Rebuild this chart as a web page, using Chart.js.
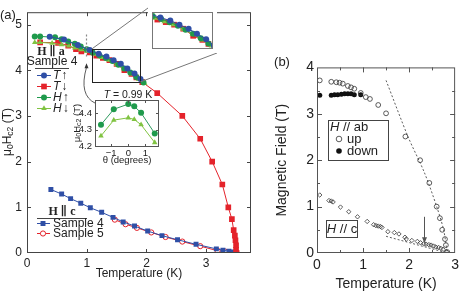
<!DOCTYPE html>
<html>
<head>
<meta charset="utf-8">
<script src="https://cdn.jsdelivr.net/npm/chart.js@4.4.1/dist/chart.umd.min.js"></script>
<style>
  html, body { margin: 0; padding: 0; background: #fff; }
  #wrap { position: relative; width: 463px; height: 294px; overflow: hidden; }
  canvas { position: absolute; }
</style>
</head>
<body>
<div id="wrap">
  <canvas id="chartA" width="256" height="294" style="left:0;top:0"></canvas>
  <canvas id="chartB" width="201" height="238" style="left:262px;top:56px"></canvas>
  <canvas id="zoomA" width="69" height="45" style="left:148px;top:8px"></canvas>
  <canvas id="thetaA" width="95" height="82" style="left:70px;top:86px"></canvas>
</div>
<script>
// ---- panel (a): H || a, sample 4 ----
const tUpT = [0.38, 0.62, 0.85, 1.05, 1.2, 1.33, 1.45, 1.57, 1.68, 1.8, 1.9];
const tUpH = [4.73, 4.67, 4.55, 4.44, 4.36, 4.3, 4.22, 4.14, 4.04, 3.93, 3.81];
const tDnT = [0.22, 0.52, 0.69, 0.82, 0.91, 1.05, 1.16, 1.27, 1.38, 1.5, 1.63, 1.75, 1.83, 1.93, 2.18, 2.6, 2.9, 3.1, 3.27, 3.37, 3.43, 3.46, 3.48, 3.49, 3.5, 3.5, 3.51];
const tDnH = [4.61, 4.6, 4.54, 4.46, 4.41, 4.39, 4.32, 4.27, 4.22, 4.14, 4.0, 3.92, 3.84, 3.74, 3.5, 3.0, 2.5, 2.0, 1.5, 1.0, 0.74, 0.5, 0.38, 0.28, 0.17, 0.07, 0.0];
const hUpT = [0.13, 0.22, 0.47, 0.58, 0.69, 0.8, 0.9, 1.0, 1.1, 1.21, 1.32, 1.43, 1.53, 1.63, 1.73, 1.83, 1.95];
const hUpH = [4.74, 4.74, 4.72, 4.68, 4.63, 4.58, 4.52, 4.46, 4.39, 4.33, 4.27, 4.2, 4.12, 4.04, 3.95, 3.85, 3.73];
const hDnT = [0.13, 0.22, 0.42, 0.58, 0.7, 0.8, 0.9, 1.0, 1.12, 1.25, 1.37, 1.5, 1.62, 1.75, 1.87, 1.97];
const hDnH = [4.61, 4.61, 4.59, 4.56, 4.53, 4.49, 4.45, 4.41, 4.35, 4.28, 4.22, 4.13, 4.03, 3.92, 3.8, 3.71];

// ---- panel (a): H || c ----
const cS4T = [0.4, 0.58, 0.73, 0.9, 1.06, 1.25, 1.44, 1.61, 1.8, 2.02, 2.26, 2.52, 2.83, 3.17, 3.28, 3.38, 3.45, 3.5];
const cS4H = [1.39, 1.29, 1.19, 1.09, 0.99, 0.89, 0.78, 0.68, 0.59, 0.48, 0.38, 0.29, 0.19, 0.09, 0.06, 0.04, 0.02, 0.0];
const cS5T = [1.47, 1.65, 1.84, 2.08, 2.32, 2.6, 2.9, 3.19, 3.32, 3.45];
const cS5H = [0.73, 0.63, 0.55, 0.45, 0.35, 0.25, 0.15, 0.05, 0.03, 0.0];

// zoom window shown in the top-right inset, and the T = 0.99 K marker
const zoomT = [1.09, 1.89];
const zoomH = [3.74, 4.47];
const markT = 0.98;

// ---- angle inset (T = 0.99 K) ----
const thetaDeg = [-1.6, -0.85, 0, 0.35, 0.75, 1.55];
const thetaHup = [4.33, 4.424, 4.455, 4.442, 4.402, 4.277];
const thetaHdn = [4.262, 4.358, 4.372, 4.362, 4.33, 4.222];

// ---- panel (b) ----
const abUpT = [0.06, 0.31, 0.42, 0.49, 0.56, 0.67, 0.74, 0.81, 0.95, 1.06, 1.15, 1.33, 1.5, 1.92, 2.24, 2.44, 2.6, 2.67, 2.72, 2.78, 2.8, 2.83];
const abUpH = [3.72, 3.69, 3.68, 3.67, 3.65, 3.6, 3.57, 3.54, 3.45, 3.36, 3.32, 3.19, 3.01, 2.51, 2.0, 1.51, 1.0, 0.75, 0.5, 0.3, 0.17, 0.02];
const abDnT = [0.06, 0.31, 0.38, 0.45, 0.53, 0.6, 0.67, 0.74, 0.81, 0.95];
const abDnH = [3.4, 3.4, 3.41, 3.41, 3.42, 3.43, 3.43, 3.43, 3.41, 3.41];
const cT = [0.06, 0.26, 0.31, 0.35, 0.51, 0.69, 0.88, 1.09, 1.23, 1.28, 1.33, 1.38, 1.41, 1.54, 1.68, 1.78, 1.91, 1.94, 2.06, 2.18, 2.25, 2.32, 2.37, 2.43, 2.48, 2.53, 2.58, 2.64, 2.69, 2.74, 2.81];
const cH = [1.25, 1.13, 1.12, 1.1, 0.99, 0.89, 0.78, 0.68, 0.61, 0.59, 0.58, 0.57, 0.55, 0.46, 0.44, 0.41, 0.34, 0.3, 0.27, 0.25, 0.22, 0.2, 0.19, 0.18, 0.17, 0.15, 0.13, 0.12, 0.1, 0.08, 0.03];
const fitAbT = [1.5, 1.98, 2.33, 2.6, 2.75, 2.83];
const fitAbH = [3.72, 2.5, 1.74, 1.0, 0.5, 0.0];
const fitCT = [1.5, 2.83];
const fitCH = [0.36, 0.0];
const arrowT = 2.33;
const arrowH = [0.78, 0.21];

// tick labels
const ticksAx = [0, 1, 2, 3];
const ticksAy = [0, 1, 2, 3, 4, 5];
const ticksThX = [-1, 0, 1];
const ticksThY = [4.2, 4.3, 4.4];
const ticksBx = [0, 1, 2, 3];
const ticksBy = [0, 1, 2, 3, 4];
const minorB = [0.5, 1.5, 2.5, 3.5];

const FONT = "'Liberation Sans Narrow', 'Liberation Sans', Arial, sans-serif";
const SERIF = "'Liberation Serif', 'DejaVu Serif', serif";
const BLUE = '#2f4fa6', RED = '#e4232b', GREEN = '#1f9a4c', LGREEN = '#80c341';
const INK = '#222';

Chart.defaults.font.family = FONT;
Chart.defaults.color = INK;

const pts = (xs, ys) => xs.map((x, i) => ({ x: x, y: ys[i] }));
const setTicks = vals => axis => { axis.ticks = vals.map(v => ({ value: v })); };
const minus = v => (v < 0 ? '\u2212' + Math.abs(v) : String(v));

function drawMarker(ctx, style, x, y, r, fill, stroke, lw) {
  ctx.save();
  ctx.beginPath();
  if (style === 'rect') {
    const s = r * Math.SQRT1_2;
    ctx.rect(x - s, y - s, 2 * s, 2 * s);
  } else if (style === 'triangle') {
    ctx.moveTo(x, y - r);
    ctx.lineTo(x + r * 0.87, y + r * 0.5);
    ctx.lineTo(x - r * 0.87, y + r * 0.5);
    ctx.closePath();
  } else {
    ctx.arc(x, y, r, 0, Math.PI * 2);
  }
  if (fill) { ctx.fillStyle = fill; ctx.fill(); }
  if (stroke) { ctx.strokeStyle = stroke; ctx.lineWidth = lw || 1; ctx.stroke(); }
  ctx.restore();
}

// text with subscripts, rotated -90deg and centred at (cx, cy)
function richVertical(ctx, parts, cx, cy) {
  ctx.save();
  ctx.translate(cx, cy);
  ctx.rotate(-Math.PI / 2);
  let w = 0;
  parts.forEach(p => { ctx.font = p.f; w += ctx.measureText(p.t).width; });
  let x = -w / 2;
  ctx.fillStyle = INK;
  ctx.textBaseline = 'middle';
  ctx.textAlign = 'left';
  parts.forEach(p => {
    ctx.font = p.f;
    ctx.fillText(p.t, x, p.dy || 0);
    x += ctx.measureText(p.t).width;
  });
  ctx.restore();
}

// inward ticks and a closed frame round the plot area
function frameTicks(cfg) {
  return {
    id: 'frameTicks',
    afterDatasetsDraw(chart) {
      const { ctx, chartArea: a, scales } = chart;
      ctx.save();
      ctx.strokeStyle = cfg.color;
      ctx.lineWidth = 1;
      ctx.strokeRect(a.left + 0.5, a.top + 0.5, a.right - a.left - 1, a.bottom - a.top - 1);
      (cfg.ticks || []).forEach(t => {
        ctx.beginPath();
        t.values.forEach(v => {
          if (t.axis === 'x') {
            const px = Math.round(scales.x.getPixelForValue(v)) + 0.5;
            if (t.sides.includes('bottom')) { ctx.moveTo(px, a.bottom); ctx.lineTo(px, a.bottom - t.len); }
            if (t.sides.includes('top')) { ctx.moveTo(px, a.top); ctx.lineTo(px, a.top + t.len); }
          } else {
            const py = Math.round(scales.y.getPixelForValue(v)) + 0.5;
            if (t.sides.includes('left')) { ctx.moveTo(a.left, py); ctx.lineTo(a.left + t.len, py); }
            if (t.sides.includes('right')) { ctx.moveTo(a.right, py); ctx.lineTo(a.right - t.len, py); }
          }
        });
        ctx.stroke();
      });
      ctx.restore();
    }
  };
}

function seriesA() {
  return [
    { label: 'T up', data: pts(tUpT, tUpH), showLine: true, borderColor: BLUE, backgroundColor: BLUE,
      borderWidth: 1, pointStyle: 'circle', pointRadius: 3, pointBorderWidth: 0 },
    { label: 'H up', data: pts(hUpT, hUpH), showLine: true, borderColor: GREEN, backgroundColor: GREEN,
      borderWidth: 1, pointStyle: 'circle', pointRadius: 3, pointBorderWidth: 0 },
    { label: 'H down', data: pts(hDnT, hDnH), showLine: true, borderColor: LGREEN, backgroundColor: LGREEN,
      borderWidth: 1, pointStyle: 'triangle', pointRadius: 3.2, pointBorderWidth: 0 },
    { label: 'T down', data: pts(tDnT, tDnH), showLine: true, borderColor: RED, backgroundColor: RED,
      borderWidth: 1, pointStyle: 'rect', pointRadius: 4, pointBorderWidth: 0 }
  ];
}

const baseOpts = {
  responsive: false,
  animation: false,
  events: [],
  plugins: { legend: { display: false }, tooltip: { enabled: false } }
};

// ---------------- panel (a) ----------------
const decoA = {
  id: 'decoA',
  afterDraw(chart) {
    const { ctx } = chart;
    const xs = chart.scales.x, ys = chart.scales.y;
    ctx.save();
    ctx.fillStyle = INK;
    ctx.font = '13px ' + FONT;
    ctx.textBaseline = 'middle';
    ctx.textAlign = 'left';
    ctx.fillText('(a)', 0, 15);

    richVertical(ctx, [
      { t: '\u03bc', f: '12px ' + FONT },
      { t: '0', f: '8.5px ' + FONT, dy: 3 },
      { t: 'H', f: '12px ' + FONT },
      { t: 'c2', f: '8.5px ' + FONT, dy: 3 },
      { t: ' (T)', f: '12px ' + FONT }
    ], 8, 132);

    // T = 0.99 K marker
    const mx = Math.round(xs.getPixelForValue(markT)) + 0.5;
    ctx.strokeStyle = '#888';
    ctx.lineWidth = 1.2;
    ctx.setLineDash([2, 2]);
    ctx.beginPath();
    ctx.moveTo(mx, ys.getPixelForValue(4.78));
    ctx.lineTo(mx, ys.getPixelForValue(4.26));
    ctx.stroke();
    ctx.setLineDash([]);
    const tipY = ys.getPixelForValue(4.26) + 5;
    ctx.fillStyle = '#333';
    ctx.beginPath();
    ctx.moveTo(mx, tipY); ctx.lineTo(mx - 2, tipY + 5); ctx.lineTo(mx + 2, tipY + 5); ctx.closePath();
    ctx.fill();
    ctx.strokeStyle = '#333';
    ctx.lineWidth = 0.8;
    ctx.beginPath();
    ctx.moveTo(mx, tipY + 4);
    ctx.quadraticCurveTo(mx - 8, tipY + 32, mx + 9, tipY + 40);
    ctx.stroke();

    // zoom window and its links to the inset
    const x0 = xs.getPixelForValue(zoomT[0]), x1 = xs.getPixelForValue(zoomT[1]);
    const y0 = ys.getPixelForValue(zoomH[1]), y1 = ys.getPixelForValue(zoomH[0]);
    ctx.strokeStyle = '#222';
    ctx.lineWidth = 1;
    ctx.strokeRect(Math.round(x0) + 0.5, Math.round(y0) + 0.5, Math.round(x1 - x0), Math.round(y1 - y0));
    ctx.strokeStyle = '#777';
    ctx.beginPath();
    ctx.moveTo(x0, y0); ctx.lineTo(148, 8);
    ctx.moveTo(x1, y1); ctx.lineTo(217, 53);
    ctx.stroke();

    // legend H || a
    ctx.fillStyle = INK;
    ctx.textAlign = 'center';
    ctx.font = 'bold 12px ' + SERIF;
    ctx.fillText('H \u2225 a', 51, 52);
    ctx.font = '12px ' + FONT;
    ctx.fillText('Sample 4', 52, 62);
    ctx.strokeStyle = '#444';
    ctx.beginPath(); ctx.moveTo(35, 68.5); ctx.lineTo(69, 68.5); ctx.stroke();
    const entries = [
      ['T', '\u2191', BLUE, 'circle', 3, 75],
      ['T', '\u2193', RED, 'rect', 4, 86],
      ['H', '\u2191', GREEN, 'circle', 3, 97],
      ['H', '\u2193', LGREEN, 'triangle', 3.2, 108]
    ];
    entries.forEach(e => {
      const y = e[5];
      ctx.strokeStyle = e[2];
      ctx.lineWidth = 1;
      ctx.beginPath(); ctx.moveTo(37, y + 0.5); ctx.lineTo(51, y + 0.5); ctx.stroke();
      drawMarker(ctx, e[3], 44, y + 0.5, e[4], e[2]);
      ctx.fillStyle = INK;
      ctx.textAlign = 'left';
      ctx.font = 'italic 12px ' + FONT;
      ctx.fillText(e[0], 53, y + 1);
      const w = ctx.measureText(e[0]).width;
      ctx.font = '12px ' + FONT;
      ctx.fillText(e[1], 54 + w, y + 1);
    });

    // legend H || c
    ctx.textAlign = 'center';
    ctx.font = 'bold 12px ' + SERIF;
    ctx.fillText('H \u2225 c', 62, 212);
    ctx.strokeStyle = '#444';
    ctx.beginPath(); ctx.moveTo(37, 218.5); ctx.lineTo(87, 218.5); ctx.stroke();
    ctx.strokeStyle = BLUE;
    ctx.beginPath(); ctx.moveTo(37, 223.5); ctx.lineTo(50, 223.5); ctx.stroke();
    drawMarker(ctx, 'rect', 43, 223.5, 3.5, BLUE);
    ctx.strokeStyle = RED;
    ctx.beginPath(); ctx.moveTo(37, 233.5); ctx.lineTo(50, 233.5); ctx.stroke();
    drawMarker(ctx, 'circle', 43, 233.5, 2.6, '#fff', RED, 1);
    ctx.fillStyle = INK;
    ctx.textAlign = 'left';
    ctx.font = '12px ' + FONT;
    ctx.fillText('Sample 4', 53, 224);
    ctx.fillText('Sample 5', 53, 234);
    ctx.restore();
  }
};

new Chart(document.getElementById('chartA'), {
  type: 'scatter',
  data: {
    datasets: seriesA().concat([
      { label: 'Sample 4', data: pts(cS4T, cS4H), showLine: true, borderColor: BLUE, backgroundColor: BLUE,
        borderWidth: 1, pointStyle: 'rect', pointRadius: 3.5, pointBorderWidth: 0 },
      { label: 'Sample 5', data: pts(cS5T, cS5H), showLine: true, borderColor: RED, backgroundColor: '#fff',
        borderWidth: 1, pointStyle: 'circle', pointRadius: 2.6, pointBorderWidth: 1, pointBorderColor: RED }
    ])
  },
  options: Object.assign({}, baseOpts, {
    layout: { padding: { top: 2, right: 5, left: 0, bottom: 0 } },
    scales: {
      x: {
        type: 'linear', min: 0, max: 3.75,
        afterBuildTicks: setTicks(ticksAx),
        afterFit: axis => { axis.height = 41; },
        grid: { display: false, drawTicks: false }, border: { display: false },
        ticks: { padding: 3, font: { size: 12 }, color: INK },
        title: { display: true, text: 'Temperature (K)', font: { size: 12 }, color: INK, padding: { top: 0, bottom: 13 } }
      },
      y: {
        type: 'linear', min: 0, max: 5.27,
        afterBuildTicks: setTicks(ticksAy),
        afterFit: axis => { axis.width = 27; },
        grid: { display: false, drawTicks: false }, border: { display: false },
        ticks: { padding: 5, font: { size: 12 }, color: INK }
      }
    }
  }),
  plugins: [frameTicks({
    color: '#444',
    ticks: [
      { axis: 'x', values: [1, 2, 3], len: 4, sides: ['bottom', 'top'] },
      { axis: 'y', values: [1, 2, 3, 4, 5], len: 4, sides: ['left', 'right'] }
    ]
  }), decoA]
});

// ---------------- zoom inset ----------------
new Chart(document.getElementById('zoomA'), {
  type: 'scatter',
  data: { datasets: seriesA() },
  options: Object.assign({}, baseOpts, {
    layout: { padding: 0 },
    scales: {
      x: { type: 'linear', min: zoomT[0], max: zoomT[1], display: false },
      y: { type: 'linear', min: zoomH[0], max: zoomH[1], display: false }
    }
  }),
  plugins: [{
    id: 'white',
    beforeDraw(chart) {
      chart.ctx.save();
      chart.ctx.fillStyle = '#fff';
      chart.ctx.fillRect(0, 0, chart.width, chart.height);
      chart.ctx.restore();
    }
  }, frameTicks({ color: '#777', ticks: [] })]
});

// ---------------- angle inset ----------------
new Chart(document.getElementById('thetaA'), {
  type: 'scatter',
  data: {
    datasets: [
      { data: pts(thetaDeg, thetaHup), showLine: true, borderColor: '#2e9a5e', backgroundColor: GREEN,
        borderWidth: 1, pointStyle: 'circle', pointRadius: 3, pointBorderWidth: 0 },
      { data: pts(thetaDeg, thetaHdn), showLine: true, borderColor: LGREEN, backgroundColor: LGREEN,
        borderWidth: 1, pointStyle: 'triangle', pointRadius: 3.2, pointBorderWidth: 0 }
    ]
  },
  options: Object.assign({}, baseOpts, {
    layout: { padding: { top: 14, right: 6, left: 0, bottom: 0 } },
    scales: {
      x: {
        type: 'linear', min: -1.95, max: 1.8,
        afterBuildTicks: setTicks(ticksThX),
        afterFit: axis => { axis.height = 21; },
        grid: { display: false, drawTicks: false }, border: { display: false },
        ticks: { padding: 1, font: { size: 9.5 }, color: INK, callback: v => minus(v) },
        title: { display: true, text: '\u03b8 (degrees)', font: { size: 9.5 }, color: INK, padding: { top: 0, bottom: 2 } }
      },
      y: {
        type: 'linear', min: 4.195, max: 4.48,
        afterBuildTicks: setTicks(ticksThY),
        afterFit: axis => { axis.width = 25; },
        grid: { display: false, drawTicks: false }, border: { display: false },
        ticks: { padding: 3, font: { size: 9.5 }, color: INK, callback: v => v.toFixed(1) }
      }
    }
  }),
  plugins: [frameTicks({
    color: '#555',
    ticks: [
      { axis: 'x', values: ticksThX, len: 3, sides: ['bottom', 'top'] },
      { axis: 'y', values: ticksThY, len: 3, sides: ['left', 'right'] }
    ]
  }), {
    id: 'thetaDeco',
    afterDraw(chart) {
      const { ctx } = chart;
      ctx.save();
      ctx.fillStyle = INK;
      ctx.textBaseline = 'middle';
      ctx.textAlign = 'left';
      const a = '= 0.99 K';
      ctx.font = 'italic 10.5px ' + FONT;
      const wT = ctx.measureText('T ').width;
      ctx.font = '10.5px ' + FONT;
      const wA = ctx.measureText(a).width;
      const x0 = 58 - (wT + wA) / 2;
      ctx.font = 'italic 10.5px ' + FONT;
      ctx.fillText('T ', x0, 9);
      ctx.font = '10.5px ' + FONT;
      ctx.fillText(a, x0 + wT, 9);
      richVertical(ctx, [
        { t: '\u03bc', f: '9.5px ' + FONT },
        { t: '0', f: '7px ' + FONT, dy: 2.5 },
        { t: 'H', f: '9.5px ' + FONT },
        { t: 'c2', f: '7px ' + FONT, dy: 2.5 },
        { t: ' (T)', f: '9.5px ' + FONT }
      ], 7, 37);
      ctx.restore();
    }
  }]
});

// ---------------- panel (b) ----------------
const decoB = {
  id: 'decoB',
  afterDraw(chart) {
    const { ctx } = chart;
    const xs = chart.scales.x, ys = chart.scales.y;
    ctx.save();
    ctx.fillStyle = INK;
    ctx.textBaseline = 'middle';
    ctx.textAlign = 'center';
    ctx.font = '13px ' + FONT;
    ctx.fillText('(b)', 20, 6);

    // arrow
    const ax = Math.round(xs.getPixelForValue(arrowT)) + 0.5;
    const ay0 = ys.getPixelForValue(arrowH[0]), ay1 = ys.getPixelForValue(arrowH[1]);
    ctx.strokeStyle = '#555';
    ctx.lineWidth = 1;
    ctx.beginPath(); ctx.moveTo(ax, ay0); ctx.lineTo(ax, ay1 - 4); ctx.stroke();
    ctx.fillStyle = '#555';
    ctx.beginPath(); ctx.moveTo(ax, ay1); ctx.lineTo(ax - 2.5, ay1 - 6); ctx.lineTo(ax + 2.5, ay1 - 6); ctx.closePath(); ctx.fill();

    // legend H // ab
    ctx.strokeStyle = '#444';
    ctx.fillStyle = '#fff';
    ctx.fillRect(66, 64, 60, 40);
    ctx.strokeRect(66.5, 64.5, 60, 40);
    ctx.fillStyle = INK;
    ctx.textAlign = 'left';
    ctx.font = 'italic 13px ' + FONT;
    ctx.fillText('H', 68, 71);
    const wH = ctx.measureText('H').width;
    ctx.font = '13px ' + FONT;
    ctx.fillText(' // ab', 68 + wH, 71);
    drawMarker(ctx, 'circle', 77, 83, 2.8, null, '#333', 0.8);
    drawMarker(ctx, 'circle', 77, 95, 2.8, '#111');
    ctx.fillStyle = INK;
    ctx.fillText('up', 85, 83);
    ctx.fillText('down', 85, 95);

    // label H // c
    ctx.strokeStyle = '#444';
    ctx.fillStyle = '#fff';
    ctx.fillRect(64, 164, 31, 17);
    ctx.strokeRect(64.5, 164.5, 31, 17);
    ctx.fillStyle = INK;
    ctx.font = 'italic 13px ' + FONT;
    const wH2 = ctx.measureText('H').width;
    ctx.font = '13px ' + FONT;
    const wC = ctx.measureText(' // c').width;
    const cx0 = 80 - (wH2 + wC) / 2;
    ctx.font = 'italic 13px ' + FONT;
    ctx.fillText('H', cx0, 173);
    ctx.font = '13px ' + FONT;
    ctx.fillText(' // c', cx0 + wH2, 173);
    ctx.restore();
  }
};

new Chart(document.getElementById('chartB'), {
  type: 'scatter',
  data: {
    datasets: [
      { label: 'up', data: pts(abUpT, abUpH), borderColor: '#333', backgroundColor: 'rgba(0,0,0,0)',
        pointStyle: 'circle', pointRadius: 2.4, pointBorderWidth: 0.8 },
      { label: 'down', data: pts(abDnT, abDnH), borderColor: '#111', backgroundColor: '#111',
        pointStyle: 'circle', pointRadius: 2.5, pointBorderWidth: 0 },
      { label: 'H // c', data: pts(cT, cH), borderColor: '#333', backgroundColor: 'rgba(0,0,0,0)',
        pointStyle: 'rectRot', pointRadius: 2.2, pointBorderWidth: 0.8 },
      { label: 'fit ab', data: pts(fitAbT, fitAbH), showLine: true, borderColor: '#333', borderWidth: 0.8,
        borderDash: [2, 2], pointRadius: 0, tension: 0.3 },
      { label: 'fit c', data: pts(fitCT, fitCH), showLine: true, borderColor: '#333', borderWidth: 0.8,
        borderDash: [2, 2], pointRadius: 0 }
    ]
  },
  options: Object.assign({}, baseOpts, {
    layout: { padding: { top: 6, right: 5, left: 0, bottom: 0 } },
    scales: {
      x: {
        type: 'linear', min: 0, max: 3,
        afterBuildTicks: setTicks(ticksBx),
        afterFit: axis => { axis.height = 41; },
        grid: { display: false, drawTicks: false }, border: { display: false },
        ticks: { padding: 4, font: { size: 14 }, color: INK },
        title: { display: true, text: 'Temperature (K)', font: { size: 14 }, color: INK, padding: { top: 0, bottom: 1 } }
      },
      y: {
        type: 'linear', min: 0, max: 4,
        afterBuildTicks: setTicks(ticksBy),
        afterFit: axis => { axis.width = 55; },
        grid: { display: false, drawTicks: false }, border: { display: false },
        ticks: { padding: 3, font: { size: 14 }, color: INK },
        title: { display: true, text: 'Magnetic Field (T)', font: { size: 14 }, color: INK, padding: { top: 12, bottom: 0 } }
      }
    }
  }),
  plugins: [frameTicks({
    color: '#555',
    ticks: [
      { axis: 'x', values: [1, 2], len: 5, sides: ['bottom', 'top'] },
      { axis: 'x', values: minorB.slice(0, 3), len: 3, sides: ['bottom', 'top'] },
      { axis: 'y', values: [1, 2, 3], len: 5, sides: ['left', 'right'] },
      { axis: 'y', values: minorB, len: 3, sides: ['left', 'right'] }
    ]
  }), decoB]
});
</script>
</body>
</html>
